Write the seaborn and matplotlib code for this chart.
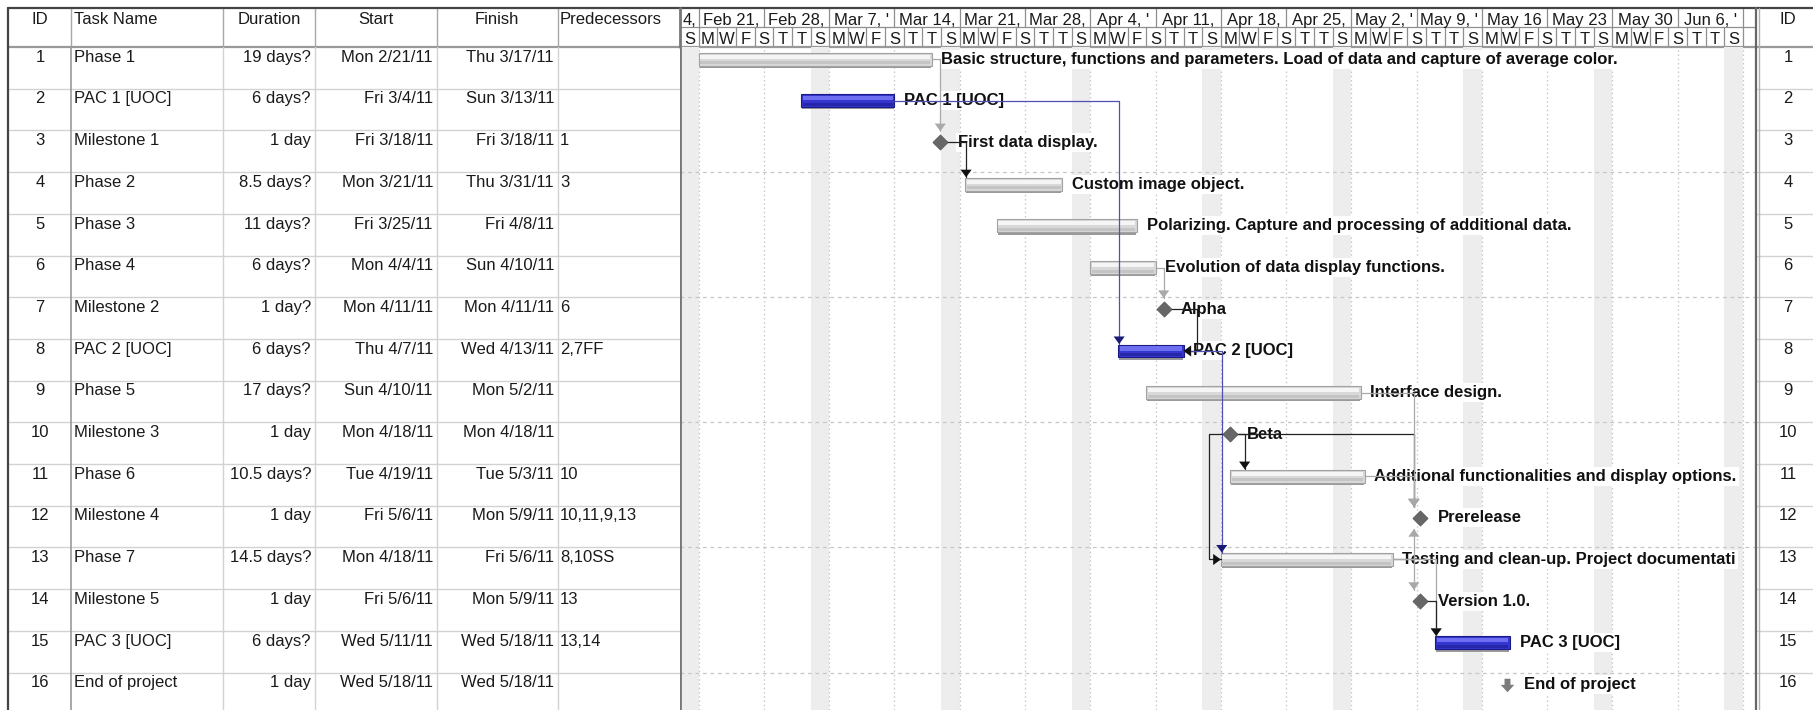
import matplotlib
matplotlib.use("Agg")
import matplotlib.pyplot as plt
import numpy as np
import pandas as pd
import seaborn as sns

# ---- data -------------------------------------------------------------
task_ids = list(range(1, 17))
task_names = ["Phase 1", "PAC 1 [UOC]", "Milestone 1", "Phase 2", "Phase 3", "Phase 4",
              "Milestone 2", "PAC 2 [UOC]", "Phase 5", "Milestone 3", "Phase 6", "Milestone 4",
              "Phase 7", "Milestone 5", "PAC 3 [UOC]", "End of project"]
durations = ["19 days?", "6 days?", "1 day", "8.5 days?", "11 days?", "6 days?", "1 day?",
             "6 days?", "17 days?", "1 day", "10.5 days?", "1 day", "14.5 days?", "1 day",
             "6 days?", "1 day"]
starts = ["Mon 2/21/11", "Fri 3/4/11", "Fri 3/18/11", "Mon 3/21/11", "Fri 3/25/11", "Mon 4/4/11",
          "Mon 4/11/11", "Thu 4/7/11", "Sun 4/10/11", "Mon 4/18/11", "Tue 4/19/11", "Fri 5/6/11",
          "Mon 4/18/11", "Fri 5/6/11", "Wed 5/11/11", "Wed 5/18/11"]
finishes = ["Thu 3/17/11", "Sun 3/13/11", "Fri 3/18/11", "Thu 3/31/11", "Fri 4/8/11", "Sun 4/10/11",
            "Mon 4/11/11", "Wed 4/13/11", "Mon 5/2/11", "Mon 4/18/11", "Tue 5/3/11", "Mon 5/9/11",
            "Fri 5/6/11", "Mon 5/9/11", "Wed 5/18/11", "Wed 5/18/11"]
predecessors = ["", "", "1", "3", "", "", "6", "2,7FF", "", "", "10", "10,11,9,13",
                "8,10SS", "13", "13,14", ""]
bar_notes = ["Basic structure, functions and parameters. Load of data and capture of average color.",
             "PAC 1 [UOC]", "First data display.", "Custom image object.",
             "Polarizing. Capture and processing of additional data.",
             "Evolution of data display functions.", "Alpha", "PAC 2 [UOC]", "Interface design.",
             "Beta", "Additional functionalities and display options.", "Prerelease",
             "Testing and clean-up. Project documentati", "Version 1.0.", "PAC 3 [UOC]",
             "End of project"]
kinds = ["task", "pac", "milestone", "task", "task", "task", "milestone", "pac", "task",
         "milestone", "task", "milestone", "task", "milestone", "pac", "end"]
bar_from = ["2011-02-21 00:00", "2011-03-04 00:00", "2011-03-18 22:00", "2011-03-21 14:00",
            "2011-03-25 00:00", "2011-04-04 00:00", "2011-04-11 21:00", "2011-04-07 00:00",
            "2011-04-10 00:00", "2011-04-18 23:00", "2011-04-19 00:00", "2011-05-08 17:00",
            "2011-04-18 00:00", "2011-05-08 17:00", "2011-05-11 00:00", "2011-05-18 17:00"]
bar_to = ["2011-03-18 00:00", "2011-03-14 00:00", "2011-03-18 22:00", "2011-04-01 00:00",
          "2011-04-09 00:00", "2011-04-11 00:00", "2011-04-11 21:00", "2011-04-14 00:00",
          "2011-05-03 00:00", "2011-04-18 23:00", "2011-05-03 10:00", "2011-05-09 10:00",
          "2011-05-06 10:00", "2011-05-09 10:00", "2011-05-19 00:00", "2011-05-18 17:00"]
links = [(1, 3, "FS"), (2, 8, "FS"), (3, 4, "FS"), (6, 7, "FS"), (7, 8, "FF"), (8, 13, "FS"),
         (10, 11, "FS"), (10, 13, "SS"), (10, 12, "FS"), (9, 12, "FS"), (11, 12, "FS"),
         (13, 12, "FS"), (13, 14, "FS"), (13, 15, "FS"), (14, 15, "FS")]
week_labels = ["4,", "Feb 21,", "Feb 28,", "Mar 7, '", "Mar 14,", "Mar 21,", "Mar 28,",
               "Apr 4, '", "Apr 11,", "Apr 18,", "Apr 25,", "May 2, '", "May 9, '", "May 16",
               "May 23", "May 30", "Jun 6, '"]
day_letters = ["S", "M", "W", "F", "S", "T", "T"]

view_start = pd.Timestamp("2011-02-19")
view_end = pd.Timestamp("2011-06-14 07:00")

# ---- style ------------------------------------------------------------
sns.set_style("white")
plt.rcParams["font.family"] = ["Liberation Sans", "DejaVu Sans"]
FS_TXT = 12

W, H = 1813, 710
HEAD_TOP, HEAD_BOT = 7.5, 47
ROW_PX = 41.7
n_vis = (H - HEAD_BOT) / ROW_PX
GRID = "#d2d2d2"
CELL = "#8f8f8f"
INK = "#1a1a1a"

fig = plt.figure(figsize=(W / 100, H / 100), dpi=100)


def px_axes(x0, y0, x1, y1):
    ax = fig.add_axes([x0 / W, 1 - y1 / H, (x1 - x0) / W, (y1 - y0) / H])
    ax.set_axis_off()
    return ax


def to_days(values):
    return ((pd.to_datetime(pd.Series(values)) - view_start) / pd.Timedelta(days=1)).to_numpy()


x_from = to_days(bar_from)
x_to = to_days(bar_to)
x_max = (view_end - view_start) / pd.Timedelta(days=1)
y_bar = np.arange(len(task_ids)) + 0.29
y_txt = np.arange(len(task_ids)) + 0.245

# ---- left table -------------------------------------------------------
col_edges = [8, 71, 223, 315, 437, 558, 680]
th = px_axes(8, HEAD_TOP, 680, HEAD_BOT)
th.set_xlim(8, 680)
th.set_ylim(1, 0)
hy = (19.5 - HEAD_TOP) / (HEAD_BOT - HEAD_TOP)
th.text(40, hy, "ID", ha="center", va="center", fontsize=FS_TXT, color=INK)
th.text(74, hy, "Task Name", ha="left", va="center", fontsize=FS_TXT, color=INK)
th.text(269, hy, "Duration", ha="center", va="center", fontsize=FS_TXT, color=INK)
th.text(376, hy, "Start", ha="center", va="center", fontsize=FS_TXT, color=INK)
th.text(497, hy, "Finish", ha="center", va="center", fontsize=FS_TXT, color=INK)
th.text(560, hy, "Predecessors", ha="left", va="center", fontsize=FS_TXT, color=INK)
for xe in col_edges[1:-1]:
    th.plot([xe, xe], [0, 1], color="#a8a8a8", lw=1, clip_on=False)
th.plot([8, 680], [0, 0], color="#444444", lw=1.6, clip_on=False)
th.plot([8, 680], [1, 1], color="#999999", lw=1.6, clip_on=False)
th.plot([8, 8], [0, 1], color="#444444", lw=1.6, clip_on=False)

tb = px_axes(8, HEAD_BOT, 680, H)
tb.set_xlim(8, 680)
tb.set_ylim(n_vis, 0)
for i in range(len(task_ids)):
    y = y_txt[i]
    tb.text(40, y, str(task_ids[i]), ha="center", va="center", fontsize=FS_TXT, color=INK)
    tb.text(74, y, task_names[i], ha="left", va="center", fontsize=FS_TXT, color=INK)
    tb.text(311, y, durations[i], ha="right", va="center", fontsize=FS_TXT, color=INK)
    tb.text(433, y, starts[i], ha="right", va="center", fontsize=FS_TXT, color=INK)
    tb.text(554, y, finishes[i], ha="right", va="center", fontsize=FS_TXT, color=INK)
    tb.text(560, y, predecessors[i], ha="left", va="center", fontsize=FS_TXT, color=INK)
for r in range(1, 16):
    tb.plot([8, 680], [r, r], color=GRID, lw=1)
for xe in col_edges[2:-1]:
    tb.plot([xe, xe], [0, n_vis], color=GRID, lw=1)
tb.plot([71, 71], [0, n_vis], color="#9a9a9a", lw=1.2)
tb.plot([8, 8], [0, n_vis], color="#444444", lw=1.6, clip_on=False)

# ---- gantt header -----------------------------------------------------
gh = px_axes(680, HEAD_TOP, 1755, HEAD_BOT)
gh.set_xlim(0, x_max)
gh.set_ylim(1, 0)
mondays = (pd.date_range("2011-02-21", periods=17, freq="7D") - view_start) / pd.Timedelta(days=1)
week_edges = np.concatenate([[0.0], mondays.to_numpy()])
for k, lab in enumerate(week_labels):
    gh.text((week_edges[k] + week_edges[k + 1]) / 2, 0.33, lab, ha="center", va="center",
            fontsize=FS_TXT, color=INK)
for xe in week_edges:
    gh.plot([xe, xe], [0, 0.5], color=CELL, lw=0.9)
cells = (pd.date_range(view_start, "2011-06-13", freq="2D") - view_start) / pd.Timedelta(days=1)
cells = cells.to_numpy()
for k in range(len(cells) - 1):
    gh.text((cells[k] + cells[k + 1]) / 2, 0.82, day_letters[k % 7], ha="center", va="center",
            fontsize=FS_TXT, color=INK)
for xe in cells:
    gh.plot([xe, xe], [0.5, 1], color=CELL, lw=0.9)
gh.plot([0, x_max], [0.5, 0.5], color=CELL, lw=0.9)
gh.plot([0, x_max], [0, 0], color="#444444", lw=1.6, clip_on=False)
gh.plot([0, x_max], [1, 1], color="#999999", lw=1.6, clip_on=False)
gh.plot([0, 0], [0, 1], color="#777777", lw=2, clip_on=False)

# ---- gantt body -------------------------------------------------------
ax = px_axes(680, HEAD_BOT, 1755, H)
ax.set_xlim(0, x_max)
ax.set_ylim(n_vis, 0)

weekends = (pd.date_range(view_start, "2011-06-11", freq="14D") - view_start) / pd.Timedelta(days=1)
for d in weekends:
    ax.axvspan(d, d + 2, color="#ededed", lw=0, zorder=0)
for d in mondays:
    ax.axvline(d, color="#c6c6c6", lw=0.9, ls=(0, (1.2, 2.2)), zorder=1)
for r in (3, 6, 9, 12, 15):
    ax.axhline(r, color="#c6c6c6", lw=0.9, ls=(0, (3, 3)), zorder=1)
ax.axvline(0, color="#777777", lw=2, zorder=6)

BAR_H = 0.31
# face, edge, top highlight, lower shade
palette = {"task": ("#d9d9d9", "#a2a2a2", "#f5f5f5", "#c4c4c4"),
           "pac": ("#3535cf", "#1a1a85", "#6e6ef0", "#2626a8")}
for i, kind in enumerate(kinds):
    if kind not in palette:
        continue
    face, edge, light, shade = palette[kind]
    w = x_to[i] - x_from[i]
    ax.barh(y_bar[i] + BAR_H / 2 + 0.03, w - 0.2, left=x_from[i] + 0.1, height=0.045,
            color="#9a9a9a", lw=0, zorder=2.9)
    ax.barh(y_bar[i], w, left=x_from[i], height=BAR_H, color=face, edgecolor=edge, lw=0.8,
            zorder=3)
    ax.barh(y_bar[i] - 0.06, w - 0.3, left=x_from[i] + 0.15, height=0.1, color=light, lw=0,
            zorder=3.1)
    ax.barh(y_bar[i] + 0.09, w - 0.3, left=x_from[i] + 0.15, height=0.07, color=shade, lw=0,
            zorder=3.1)

ms = [i for i, k in enumerate(kinds) if k == "milestone"]
sns.scatterplot(x=x_to[ms], y=y_bar[ms], marker="D", s=60, color="#676767", edgecolor="#555555",
                linewidth=0.5, ax=ax, zorder=7, legend=False)
end_marker = [(-0.22, 0.5), (0.22, 0.5), (0.22, 0.05), (0.5, 0.05), (0, -0.5), (-0.5, 0.05),
              (-0.22, 0.05)]
ends = [i for i, k in enumerate(kinds) if k == "end"]
ax.scatter(x_to[ends], y_bar[ends], marker=end_marker, s=95, color="#7c7c7c", lw=0, zorder=7)

for i, note in enumerate(bar_notes):
    off = 7.0 if kinds[i] in palette else 12.5
    ax.annotate(note, xy=(x_to[i], y_bar[i]), xytext=(off, 0), textcoords="offset points",
                ha="left", va="center", fontsize=FS_TXT, fontweight="bold", color="#111111",
                bbox=dict(boxstyle="square,pad=0.12", fc="white", ec="none"), zorder=2.5)

link_style = {"task": ("#a9a9a9", "#a9a9a9"), "pac": ("#5050b4", "#1b1b78"),
              "milestone": ("#222222", "#111111")}
head = "-|>,head_length=0.55,head_width=0.4"
for p, s, typ in links:
    pi, si = p - 1, s - 1
    yp, ys = y_bar[pi], y_bar[si]
    c_line, c_head = link_style[kinds[pi]]
    s_ms = kinds[si] == "milestone"
    if typ == "FS":
        x0 = x_to[pi]
        tx = x_from[si] if s_ms else max(x_from[si] + 0.1, x0 + 1.6)
        gap = 0.27 if s_ms else BAR_H / 2 + 0.01
        ty = ys - gap if ys > yp else ys + gap
        ax.plot([x0, tx], [yp, yp], color=c_line, lw=0.9, zorder=4)
        ax.plot([tx, tx], [yp, ty], color=c_line, lw=0.9, zorder=4)
        ax.annotate("", xy=(tx, ty), xytext=(tx, ty - 0.3 * np.sign(ty - yp)),
                    arrowprops=dict(arrowstyle=head, mutation_scale=10, color=c_head, lw=0,
                                    shrinkA=0, shrinkB=0), zorder=4.5)
    elif typ == "SS":
        xl = min(x_from[pi], x_from[si]) - 1.3
        ax.plot([x_to[pi], xl, xl, x_from[si]], [yp, yp, ys, ys], color=c_line, lw=0.9, zorder=4)
        ax.annotate("", xy=(x_from[si], ys), xytext=(x_from[si] - 1.0, ys),
                    arrowprops=dict(arrowstyle=head, mutation_scale=10, color=c_head, lw=0,
                                    shrinkA=0, shrinkB=0), zorder=4.5)
    else:
        xr = max(x_to[pi], x_to[si]) + 1.5
        ax.plot([x_to[pi], xr, xr, x_to[si]], [yp, yp, ys, ys], color=c_line, lw=0.9, zorder=4)
        ax.annotate("", xy=(x_to[si], ys), xytext=(x_to[si] + 1.0, ys),
                    arrowprops=dict(arrowstyle=head, mutation_scale=10, color=c_head, lw=0,
                                    shrinkA=0, shrinkB=0), zorder=4.5)

# ---- right id column --------------------------------------------------
rh = px_axes(1755, HEAD_TOP, 1813, HEAD_BOT)
rh.set_xlim(1755, 1813)
rh.set_ylim(1, 0)
rh.text(1788, hy, "ID", ha="center", va="center", fontsize=FS_TXT, color=INK)
rh.plot([1755, 1813], [0, 0], color="#444444", lw=1.6, clip_on=False)
rh.plot([1755, 1813], [1, 1], color="#999999", lw=1.6, clip_on=False)
rb = px_axes(1755, HEAD_BOT, 1813, H)
rb.set_xlim(1755, 1813)
rb.set_ylim(n_vis, 0)
for i in range(len(task_ids)):
    rb.text(1788, y_txt[i], str(task_ids[i]), ha="center", va="center", fontsize=FS_TXT, color=INK)
for r in range(1, 16):
    rb.plot([1755, 1813], [r, r], color=GRID, lw=1)
for a in (rh, rb):
    a.axvline(1755.5, color="#666666", lw=1.6, clip_on=False)
    a.axvline(1758.5, color="#b0b0b0", lw=1, clip_on=False)

fig.savefig("out.png", dpi=100, facecolor="white")
